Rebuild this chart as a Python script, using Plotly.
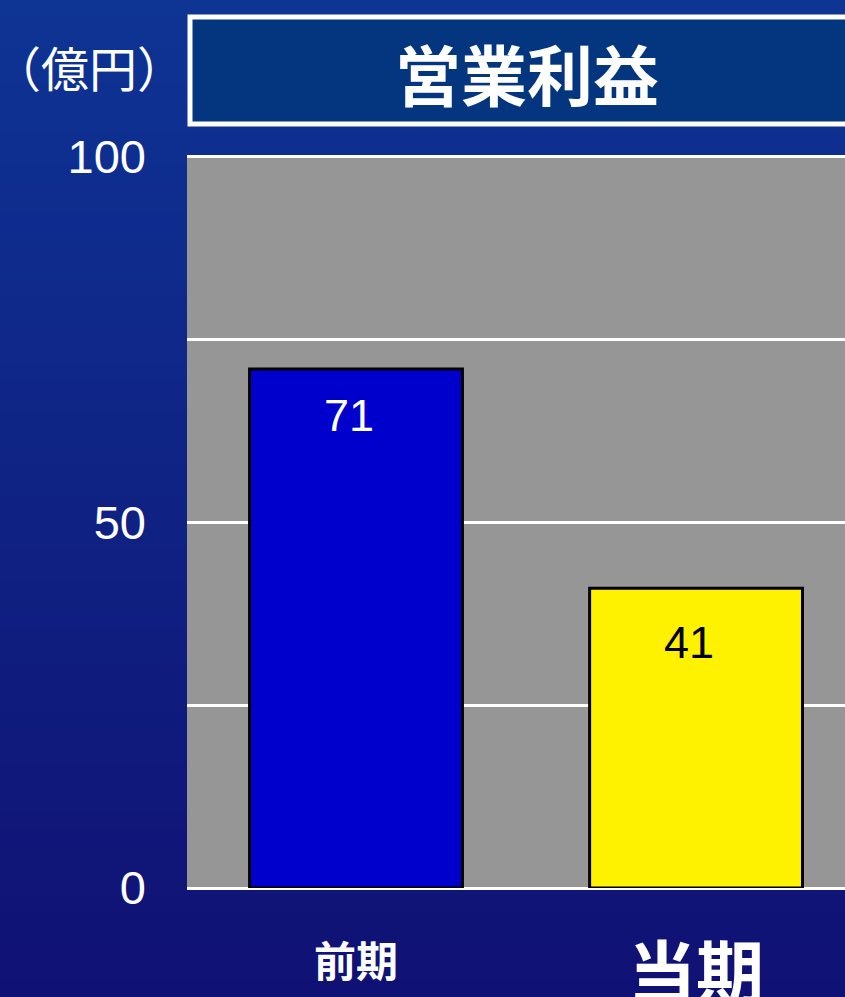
import plotly.graph_objects as go

categories = ["前期", "当期"]
values = [71, 41]
bar_colors = ["#0000cc", "#fff200"]
label_colors = ["white", "black"]
label_sizes = [42, 68]
y_tickvals = [0, 25, 50, 75, 100]
y_ticktext = ["0", "", "50", "", "100"]
title_text = "営業利益"
unit_text = "（億円）"

W, H = 845, 997
YMAX = 100.4
L, R, B = 187, 0, 109
T = 157 - int(round((YMAX - 100) * (888 - 157) / 100))
FONT = "Noto Sans CJK JP"

fig = go.Figure()
fig.add_trace(go.Bar(
    x=[0, 1], y=values, width=0.626,
    marker=dict(color=bar_colors, line=dict(color="black", width=3)),
    hoverinfo="skip",
))

shapes = []
# background gradient (styling only)
n = 60
top = (14, 52, 148)
bot = (16, 17, 116)
ppx = (H - T - B)
ph = 1.0 + (T + B) / ppx
y0p = -B / ppx
for i in range(n):
    f = i / (n - 1)
    c = tuple(int(round(top[k] + (bot[k] - top[k]) * f)) for k in range(3))
    ya = y0p + ph * (1 - (i + 1) / n)
    yb = y0p + ph * (1 - i / n)
    shapes.append(dict(type="rect", xref="paper", yref="paper", x0=-0.3, x1=1.05,
                       y0=ya - 0.002, y1=yb + 0.002, fillcolor="rgb(%d,%d,%d)" % c,
                       line=dict(width=0), layer="below"))
# plot area
shapes.append(dict(type="rect", xref="paper", yref="paper", x0=0, x1=1, y0=0, y1=1 - 2 / ppx,
                   fillcolor="#969696", line=dict(width=0), layer="below"))
# title box
shapes.append(dict(type="rect", xref="paper", yref="paper",
                   x0=(190 - L) / (W - L), x1=1.02,
                   y0=1 + (T - 124) / ppx, y1=1 + (T - 17) / ppx,
                   fillcolor="#03367f", line=dict(color="white", width=5), layer="above"))

annotations = [
    dict(text="<b>" + title_text + "</b>", xref="paper", yref="paper",
         x=(527 - L) / (W - L), y=1 + (T - 72) / ppx, showarrow=False,
         font=dict(size=66, color="white", family=FONT), xanchor="center", yanchor="middle"),
    dict(text=unit_text, xref="paper", yref="paper",
         x=(89 - L) / (W - L), y=1 + (T - 66) / ppx, showarrow=False,
         font=dict(size=48, color="white", family=FONT), xanchor="center", yanchor="middle"),
]
label_shifts = [-47, -54]
for i, (v, lc, sh) in enumerate(zip(values, label_colors, label_shifts)):
    annotations.append(dict(text=str(v), x=i, y=v, xref="x", yref="y", showarrow=False,
                            xanchor="center", yanchor="middle", yshift=sh, xshift=-7,
                            font=dict(size=45, color=lc, family="Liberation Sans")))
for i, (c, s) in enumerate(zip(categories, label_sizes)):
    annotations.append(dict(text="<b>" + c + "</b>", x=i, xref="x", yref="paper",
                            y=-(958 - (H - B)) / ppx if i == 0 else -(968 - (H - B)) / ppx,
                            showarrow=False, xanchor="center", yanchor="middle",
                            font=dict(size=s, color="white", family=FONT)))

fig.update_layout(
    width=W, height=H, margin=dict(l=L, r=R, t=T, b=B, pad=0),
    paper_bgcolor="#10167a", plot_bgcolor="rgba(0,0,0,0)",
    shapes=shapes, annotations=annotations, showlegend=False,
    xaxis=dict(range=[-0.497, 1.438], showticklabels=False, showgrid=False,
               zeroline=False, showline=False, fixedrange=True),
    yaxis=dict(range=[0, YMAX], tickvals=y_tickvals, ticktext=y_ticktext,
               showgrid=True, gridcolor="white", gridwidth=3,
               zeroline=True, zerolinecolor="white", zerolinewidth=3,
               tickfont=dict(size=47, color="white", family="Liberation Sans"),
               ticks="", ticklabelstandoff=40, showline=False),
)
fig.write_html("out.html", config={"displayModeBar": False},
               post_script="document.body.style.margin='0';document.body.style.overflow='hidden';")
